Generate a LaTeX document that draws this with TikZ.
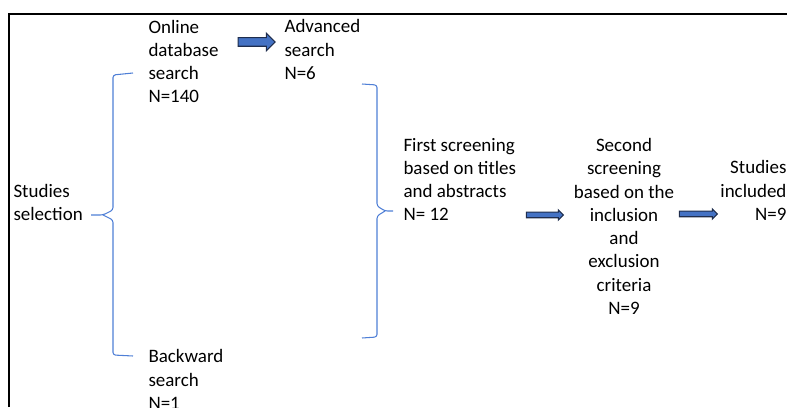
\documentclass[tikz,border=0pt]{standalone}
\usepackage{fontspec}
\setmainfont{Carlito}
\usetikzlibrary{shapes.arrows}
\definecolor{arrowblue}{HTML}{4472C4}
\definecolor{arrowedge}{HTML}{1F2D4D}
\definecolor{braceblue}{HTML}{4F7FD6}

\begin{document}
\begin{tikzpicture}[semithick, font=\fontsize{10.8}{13.25}\selectfont]

		% page and frame (only its top and left sides are in view)
		\useasboundingbox (0, 0) rectangle (15.74, 8.14);
		\draw[black, line width=1.7pt] (0.18, 0) |- (15.74, 7.86);

		\tikzstyle{every node}=[inner sep=0, text=black]
		\tikzstyle{brace}=[draw=braceblue, line width=0.6pt, rounded corners=1.5pt]
		\tikzstyle{bigarrow}=[single arrow, draw=arrowedge, fill=arrowblue, line width=0.6pt, single arrow head indent=0, text depth=0]

		% texts (base = baseline of the last line)
		\node[anchor=base west, align=left]  (selection) at (0.26, 3.72)  {Studies\\selection};
		\node[anchor=base west, align=left]  (online)    at (2.96, 6.08)  {Online\\database\\search\\N=140};
		\node[anchor=base west, align=left]  (advanced)  at (5.68, 6.55)  {Advanced\\search\\N=6};
		\node[anchor=base west, align=left]  (backward)  at (2.96, -0.05) {Backward\\search\\N=1};
		\node[anchor=base west, align=left]  (first)     at (8.06, 3.72)  {First screening\\based on titles\\and abstracts\\N= 12};
		\node[anchor=base, align=center]     (second)    at (12.48, 1.85) {Second\\screening\\based on the\\inclusion\\and\\exclusion\\criteria\\N=9};
		\node[anchor=base east, align=right] (included)  at (15.74, 3.73) {Studies\\included\\N=9};

		% block arrows
		\node[bigarrow, minimum height=0.74cm, text height=0.15cm, single arrow head extend=0.09cm] (a1) at (5.09, 7.30) {};
		\node[bigarrow, minimum height=0.74cm, text height=0.09cm, single arrow head extend=0.045cm] (a2) at (10.87, 3.84) {};
		\node[bigarrow, minimum height=0.76cm, text height=0.09cm, single arrow head extend=0.045cm] (a3) at (13.94, 3.86) {};

		% braces
		\draw[brace] (2.66, 6.68) -- (2.26, 6.64) -- (2.26, 3.94) -- (2.06, 3.84) -- (1.82, 3.84)
			(2.06, 3.84) -- (2.26, 3.74) -- (2.26, 1.04) -- (2.66, 1.02);
		\draw[brace] (7.24, 6.46) -- (7.54, 6.44) -- (7.54, 4.02) -- (7.70, 3.92) -- (7.86, 3.92)
			(7.70, 3.92) -- (7.54, 3.82) -- (7.54, 1.40) -- (7.24, 1.38);

	\end{tikzpicture}
\end{document}
